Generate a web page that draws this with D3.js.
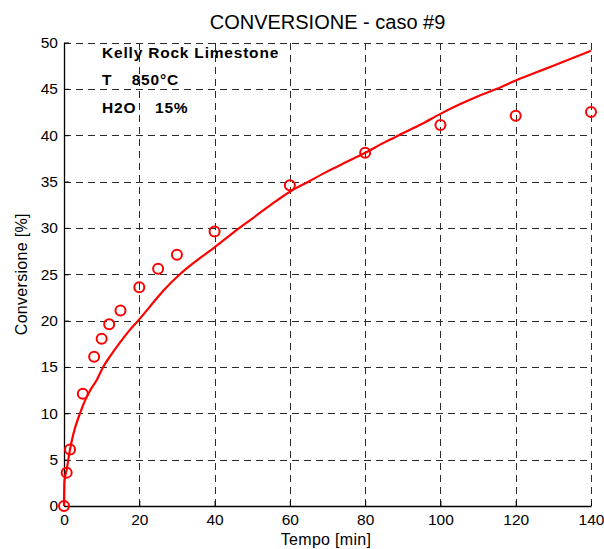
<!DOCTYPE html>
<html>
<head>
<meta charset="utf-8">
<script src="https://cdn.jsdelivr.net/npm/d3@7"></script>
<style>
  html, body { margin: 0; padding: 0; background: #fff; }
  svg { display: block; font-family: "Liberation Sans", Arial, sans-serif; }
</style>
</head>
<body>
<svg id="chart" width="604" height="549"></svg>
<script>
// Measured conversion (circles)
const expTime = [0, 0.7, 1.6, 5, 8, 10, 12, 15, 20, 25, 30, 40, 60, 80, 100, 120, 140];
const expConv = [0, 3.6, 6.1, 12.1, 16.1, 18.05, 19.6, 21.1, 23.6, 25.6, 27.1, 29.6, 34.6, 38.1, 41.1, 42.1, 42.5];

// Model curve (solid line)
const modelTime = [0, 0.1, 0.7, 1.6, 2.5, 4.25, 5.6, 7, 8.7, 10.4, 12.5, 15, 17.5, 19.7, 22, 24.2, 27, 30.8, 35, 40, 45, 50, 55, 60, 65, 70, 75, 80, 85, 90, 95, 100, 105, 110, 115, 120, 125, 130, 135, 140];
const modelConv = [0, 2.6, 3.9, 6.1, 7.8, 10, 11.4, 12.5, 13.6, 15, 16.3, 17.7, 19.0, 20, 21.1, 22.2, 23.5, 25, 26.4, 27.9, 29.5, 31.0, 32.5, 33.9, 35.0, 36.1, 37.1, 38.1, 39.2, 40.2, 41.2, 42.3, 43.3, 44.2, 45.0, 45.9, 46.7, 47.5, 48.3, 49.1];

const xTicks = [0, 20, 40, 60, 80, 100, 120, 140];
const yTicks = [0, 5, 10, 15, 20, 25, 30, 35, 40, 45, 50];

const titleText = "CONVERSIONE - caso #9";
const xLabel = "Tempo [min]";
const yLabel = "Conversione [%]";
const noteLines = [["Kelly Rock Limestone", ""], ["T", "850°C"], ["H2O", "15%"]];

const svg = d3.select("#chart");
const margin = { left: 64, right: 13, top: 42.5, bottom: 43 };
const W = 604, H = 549;
const x = d3.scaleLinear().domain([0, 140]).range([margin.left, W - margin.right]);
const y = d3.scaleLinear().domain([0, 50]).range([H - margin.bottom, margin.top]);

const red = "#ff0000";

// dashed grid
const grid = svg.append("g").attr("stroke", "#2b2b2b").attr("stroke-width", 1)
  .attr("stroke-dasharray", "7,5").attr("shape-rendering", "crispEdges");
grid.selectAll("line.v").data(xTicks.slice(1)).join("line")
  .attr("x1", d => Math.round(x(d)) + 0.5).attr("x2", d => Math.round(x(d)) + 0.5)
  .attr("y1", y(50)).attr("y2", y(0));
grid.selectAll("line.h").data(yTicks.slice(1)).join("line")
  .attr("y1", d => Math.round(y(d)) + 0.5).attr("y2", d => Math.round(y(d)) + 0.5)
  .attr("x1", x(0)).attr("x2", x(140));

// axes (ticks inward)
const xAxis = d3.axisBottom(x).tickValues(xTicks).tickSizeInner(-5).tickSizeOuter(0).tickPadding(7.5);
const yAxis = d3.axisLeft(y).tickValues(yTicks).tickSizeInner(-5).tickSizeOuter(0).tickPadding(6);

const gx = svg.append("g").attr("transform", `translate(0,${y(0)})`).call(xAxis);
const gy = svg.append("g").attr("transform", `translate(${x(0)},0)`).call(yAxis);
[gx, gy].forEach(g => {
  g.select(".domain").attr("stroke", "#000").attr("stroke-width", 1.3);
  g.selectAll(".tick line").attr("stroke", "#000").attr("stroke-width", 1);
  g.selectAll(".tick text").attr("font-size", 15.5).attr("fill", "#000")
    .attr("font-family", "Liberation Sans, Arial, sans-serif");
});

// model curve
const line = d3.line().x((d, i) => x(modelTime[i])).y(d => y(d)).curve(d3.curveMonotoneX);
svg.append("path").datum(modelConv).attr("d", line)
  .attr("fill", "none").attr("stroke", red).attr("stroke-width", 2.2)
  .attr("stroke-linejoin", "round");

// measured points
svg.append("g").selectAll("circle").data(expConv).join("circle")
  .attr("cx", (d, i) => x(expTime[i])).attr("cy", d => y(d)).attr("r", 5)
  .attr("fill", "none").attr("stroke", red).attr("stroke-width", 2);

// title and labels
svg.append("text").attr("x", (x(0) + x(140)) / 2).attr("y", 28.5)
  .attr("text-anchor", "middle").attr("font-size", 20).text(titleText);
svg.append("text").attr("x", 326).attr("y", 545)
  .attr("text-anchor", "middle").attr("font-size", 16).attr("letter-spacing", 0.3).text(xLabel);
svg.append("text").attr("transform", `translate(27,${(y(0) + y(50)) / 2}) rotate(-90)`)
  .attr("text-anchor", "middle").attr("font-size", 16).attr("letter-spacing", 0.3).text(yLabel);

// annotation block
const noteY = [58.3, 85, 113.3];
const noteX2 = [0, 131.7, 155];
noteLines.forEach((ln, i) => {
  svg.append("text").attr("x", 102).attr("y", noteY[i]).attr("font-size", 15.5)
    .attr("letter-spacing", 0.8).attr("font-weight", "bold").text(ln[0]);
  if (ln[1]) svg.append("text").attr("x", noteX2[i]).attr("y", noteY[i]).attr("font-size", 15.5)
    .attr("letter-spacing", 0.8).attr("font-weight", "bold").text(ln[1]);
});
</script>
</body>
</html>
